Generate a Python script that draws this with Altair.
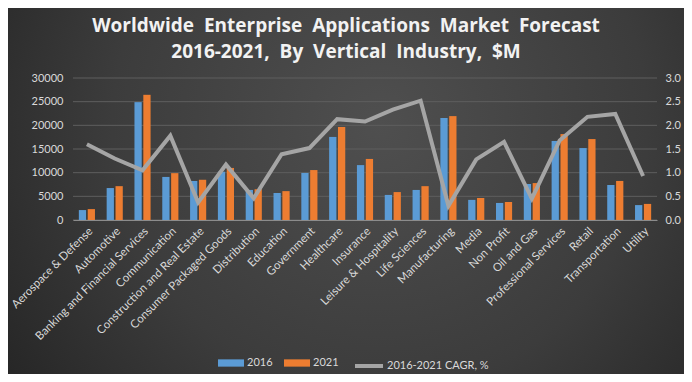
import altair as alt
import pandas as pd

categories = [
    "Aerospace & Defense", "Automotive", "Banking and Financial Services",
    "Communication", "Construction and Real Estate", "Consumer Packaged Goods",
    "Distribution", "Education", "Government", "Healthcare", "Insurance",
    "Leisure & Hospitality", "Life Sciences", "Manufacturing", "Media",
    "Non Profit", "Oil and Gas", "Professional Services", "Retail",
    "Transportation", "Utility",
]
sales_2016 = [2100, 6750, 24900, 9100, 8250, 10200, 6350, 5700, 9950, 17550,
              11600, 5300, 6350, 21550, 4250, 3600, 7600, 16700, 15200, 7400, 3150]
sales_2021 = [2300, 7150, 26450, 9900, 8500, 11000, 6500, 6100, 10550, 19650,
              12900, 5900, 7150, 21950, 4650, 3800, 7800, 18150, 17100, 8250, 3400]
cagr = [1.60, 1.30, 1.05, 1.78, 0.37, 1.17, 0.46, 1.39, 1.52, 2.13, 2.08,
        2.33, 2.52, 0.30, 1.28, 1.65, 0.45, 1.68, 2.18, 2.24, 0.93]
years = ["2016", "2021"]
left_ticks = [0, 5000, 10000, 15000, 20000, 25000, 30000]
right_ticks = [0, 0.5, 1.0, 1.5, 2.0, 2.5, 3.0]
line_name = "2016-2021 CAGR, %"
title_lines = [
    "Worldwide\u00a0\u00a0Enterprise\u00a0\u00a0Applications\u00a0\u00a0Market\u00a0\u00a0Forecast",
    "2016-2021,\u00a0\u00a0By\u00a0\u00a0Vertical\u00a0\u00a0Industry,\u00a0\u00a0$M",
]

bars_df = pd.DataFrame({
    "Industry": categories * 2,
    "Year": [years[0]] * len(categories) + [years[1]] * len(categories),
    "Sales": sales_2016 + sales_2021,
})
line_df = pd.DataFrame({"Industry": categories, "CAGR": cagr, "Series": line_name})
grid_df = pd.DataFrame({"v": left_ticks})
bg_df = pd.DataFrame({"a": [0]})

W, H = 584, 142
PAD = {"left": 65, "top": 70, "right": 27, "bottom": 154}
LABEL = "#d9d9d9"
FONT = "Lato"

x_scale = alt.Scale(domain=categories, paddingInner=0.42, paddingOuter=0.21)
x_axis = alt.Axis(title=None, labelAngle=-45, labelFont=FONT, labelFontSize=11.5,
                  labelColor=LABEL, ticks=False, domainColor="#8c8c8c",
                  domainWidth=1, labelPadding=5, zindex=1, labelLimit=300)
yl_scale = alt.Scale(domain=[0, 30000], nice=False)
yl_axis = alt.Axis(title=None, values=left_ticks, format="d", labelFont=FONT,
                   labelFontSize=11, labelColor=LABEL, domain=False, ticks=False,
                   grid=False, labelPadding=10, zindex=1)

gradient = {
    "gradient": "radial",
    "x1": 0.55, "y1": 0.4, "x2": 0.55, "y2": 0.4, "r1": 0, "r2": 0.72,
    "stops": [{"offset": 0, "color": "#4f4f4f"},
              {"offset": 0.55, "color": "#3c3c3c"},
              {"offset": 1, "color": "#222222"}],
}

bg = alt.Chart(bg_df).mark_rect().encode(
    x=alt.value(-PAD["left"]), x2=alt.value(W + PAD["right"]),
    y=alt.value(-PAD["top"]), y2=alt.value(H + PAD["bottom"]),
    color=alt.value(gradient),
)

grid = alt.Chart(grid_df).mark_rule(color="#5e5e5e", strokeWidth=1).encode(
    x=alt.value(0), x2=alt.value(W),
    y=alt.Y("v:Q", scale=yl_scale, axis=yl_axis),
)

bars = alt.Chart(bars_df).mark_bar().encode(
    x=alt.X("Industry:N", sort=categories, scale=x_scale, axis=x_axis),
    xOffset=alt.XOffset("Year:N", scale=alt.Scale(paddingInner=0.18, paddingOuter=0)),
    y=alt.Y("Sales:Q", scale=yl_scale, axis=yl_axis),
    color=alt.Color("Year:N", scale=alt.Scale(domain=years, range=["#5b9bd5", "#ed7d31"]),
                    legend=alt.Legend(title=None, orient="none", legendX=145, legendY=272,
                                      direction="horizontal",
                                      symbolType="M-1,-0.28L1,-0.28L1,0.28L-1,0.28Z",
                                      symbolSize=676, symbolStrokeWidth=0,
                                      labelFont=FONT, labelFontSize=11, labelColor=LABEL,
                                      columnPadding=11, labelOffset=3)),
)

left = alt.layer(bg, grid, bars)

line = alt.Chart(line_df).mark_line(strokeWidth=4, strokeJoin="miter").encode(
    x=alt.X("Industry:N", sort=categories, scale=x_scale, axis=x_axis),
    y=alt.Y("CAGR:Q", scale=alt.Scale(domain=[0, 3], nice=False),
            axis=alt.Axis(title=None, orient="right", values=right_ticks, format=".1f",
                          labelFont=FONT, labelFontSize=11, labelColor=LABEL,
                          domain=False, ticks=False, grid=False, labelPadding=8, zindex=1)),
    stroke=alt.Stroke("Series:N", scale=alt.Scale(domain=[line_name], range=["#a5a5a5"]),
                      legend=alt.Legend(title=None, orient="none", legendX=280, legendY=272,
                                        symbolType="stroke", symbolSize=784,
                                        symbolStrokeWidth=4,
                                        labelFont=FONT, labelFontSize=11, labelColor=LABEL,
                                        labelOffset=2)),
)

chart = alt.layer(left, line).resolve_scale(y="independent").properties(
    width=W, height=H,
    padding=PAD,
    autosize=alt.AutoSizeParams(type="none"),
    title=alt.TitleParams(text=title_lines, anchor="middle", dx=-19, offset=-54,
                          font="Open Sans", fontSize=19, fontWeight="bold", color="#f2f2f2",
                          lineHeight=26),
).configure_view(stroke=None).configure(background="#2e2e2e")

chart.save("out.html", embed_options={"renderer": "svg", "actions": False})
